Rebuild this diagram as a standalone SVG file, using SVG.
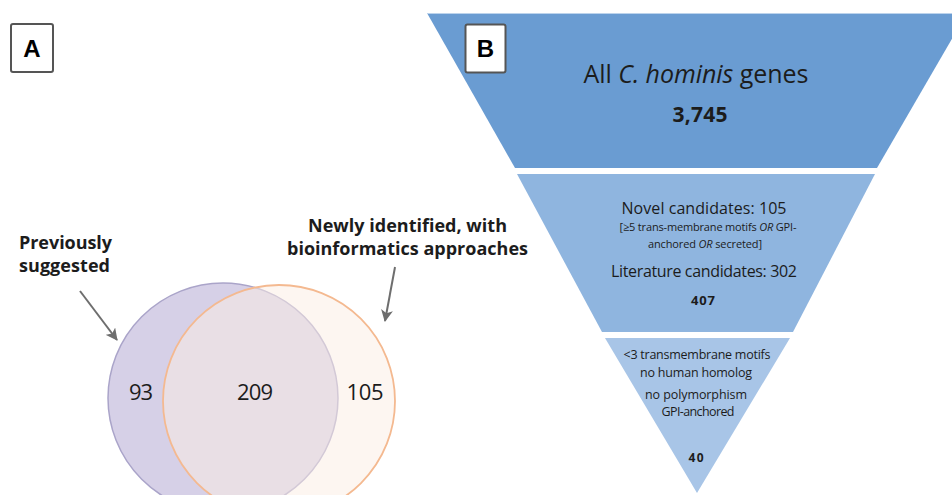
<svg xmlns="http://www.w3.org/2000/svg" width="952" height="495" viewBox="0 0 952 495">
<style>
  .t{font-family:"Open Sans","Liberation Sans",sans-serif;fill:#1c1c1c}
  .lbl{font-family:"Liberation Sans",Arial,sans-serif;font-weight:bold;font-size:24px;fill:#000;text-anchor:middle}
  .box{fill:#fff;stroke:#555;stroke-width:2}
  .b{font-weight:bold}
  .c{text-anchor:middle}
  .arr{stroke:#6e6e6e;stroke-width:2;fill:none}
</style>
<defs>
  <marker id="ah" viewBox="0 0 12 12" refX="11" refY="6" markerWidth="12" markerHeight="12" markerUnits="userSpaceOnUse" orient="auto">
    <path d="M0,0 L12,6 L0,12 L3,6 Z" fill="#6e6e6e"/>
  </marker>
</defs>
<rect width="952" height="495" fill="#fff"/>

<!-- Panel A -->
<g id="labelA">
  <rect class="box" x="11" y="24" width="42" height="48" rx="2"/>
  <text class="lbl" x="32" y="57">A</text>
</g>
<g id="venn-previous">
  <circle cx="223" cy="398" r="115" fill="#d6d0e7" stroke="#aaa4c9" stroke-width="1.5"/>
</g>
<g id="venn-new">
  <circle cx="279" cy="401" r="116" fill="#fbeee4" fill-opacity="0.5" stroke="#f4b990" stroke-width="1.8"/>
</g>
<g id="counts">
  <text class="t c" x="141" y="400" font-size="22" textLength="24">93</text>
  <text class="t c" x="255" y="400" font-size="22" textLength="36">209</text>
  <text class="t c" x="365" y="400" font-size="22" textLength="37">105</text>
</g>
<g id="label-previous">
  <text class="t b" x="19" y="249" font-size="18" textLength="93">Previously</text>
  <text class="t b" x="19" y="272" font-size="18" textLength="91">suggested</text>
</g>
<g id="label-new">
  <text class="t b" x="308" y="232" font-size="18" textLength="199">Newly identified, with</text>
  <text class="t b" x="287" y="255" font-size="18" textLength="241">bioinformatics approaches</text>
</g>
<g id="connectors">
  <line class="arr" x1="80" y1="291" x2="117" y2="340" marker-end="url(#ah)"/>
  <line class="arr" x1="395" y1="267" x2="385" y2="321" marker-end="url(#ah)"/>
</g>

<!-- Panel B -->
<g id="tier1">
  <polygon points="427,13 967,13 877,168 515,168" fill="#6a9cd2"/>
  <line x1="427" y1="13.5" x2="952" y2="13.5" stroke="#bcd3ec" stroke-width="1"/>
  <text class="t c" x="696" y="83" font-size="25" textLength="225">All <tspan font-style="italic">C. hominis</tspan> genes</text>
  <text class="t c b" x="700" y="122" font-size="21" textLength="55">3,745</text>
</g>
<g id="labelB">
  <rect class="box" x="465.5" y="24.5" width="40" height="48" rx="2"/>
  <text class="lbl" x="485.5" y="57">B</text>
</g>
<g id="tier2">
  <polygon points="517,174 875,174 793,332 602,332" fill="#8fb5df"/>
  <text class="t c" x="704" y="214" font-size="16" textLength="165">Novel candidates: 105</text>
  <text class="t c" x="708" y="231" font-size="11" textLength="177">[≥5 trans-membrane motifs <tspan font-style="italic">OR</tspan> GPI-</text>
  <text class="t c" x="705" y="248" font-size="11" textLength="114">anchored <tspan font-style="italic">OR</tspan> secreted]</text>
  <text class="t c" x="704" y="277" font-size="16" textLength="186">Literature candidates: 302</text>
  <text class="t c b" x="703" y="305" font-size="13" textLength="24">407</text>
</g>
<g id="tier3">
  <polygon points="605,338 790,338 697,493" fill="#a8c5e7"/>
  <text class="t c" x="697" y="359" font-size="12.5" textLength="147">&lt;3 transmembrane motifs</text>
  <text class="t c" x="696" y="377" font-size="12.5" textLength="112">no human homolog</text>
  <text class="t c" x="696" y="399" font-size="12.5" textLength="102">no polymorphism</text>
  <text class="t c" x="698" y="416" font-size="12.5" textLength="73">GPI-anchored</text>
  <text class="t c b" x="696" y="462" font-size="12" textLength="15">40</text>
</g>
</svg>
